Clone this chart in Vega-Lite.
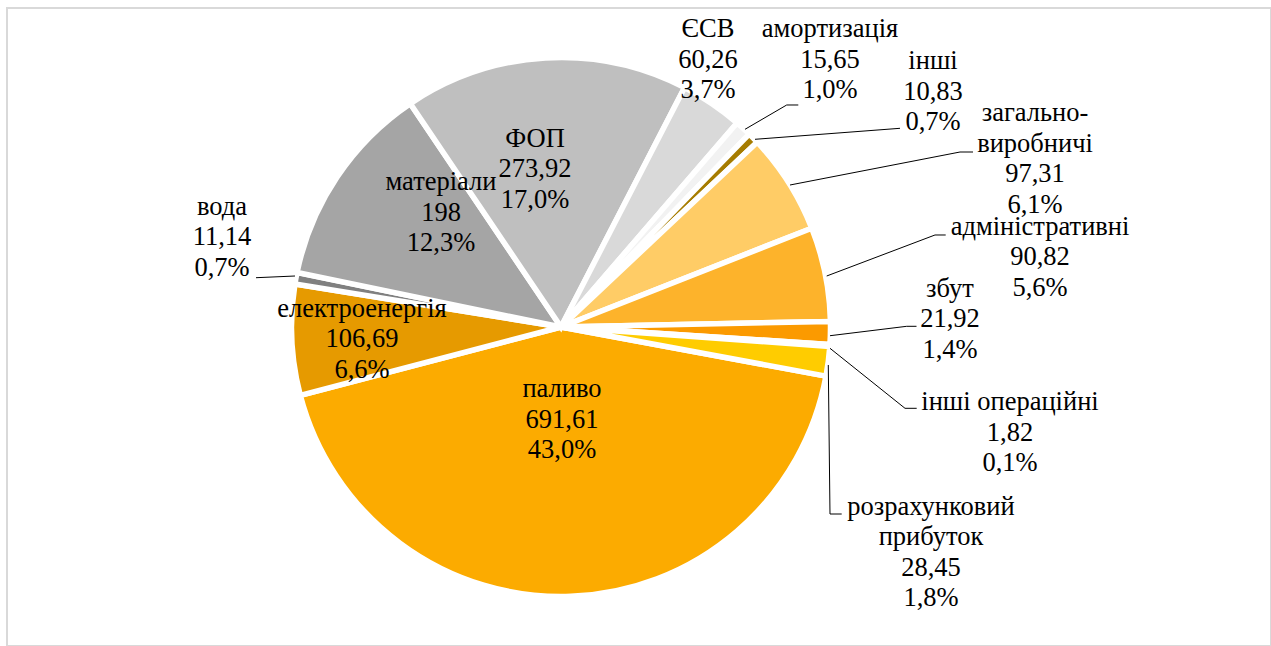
{
  "$schema": "https://vega.github.io/schema/vega-lite/v6.json",
  "width": 1271,
  "height": 646,
  "autosize": {"type": "fit", "contains": "padding"},
  "padding": {"left": 7, "top": 8, "right": 0, "bottom": 0},
  "background": "white",
  "config": {"view": {"stroke": "#D9D9D9", "strokeWidth": 2}, "font": "Liberation Serif"},
  "datasets": {
    "costs": [
      {"i": 1, "name": "паливо", "value": 691.61},
      {"i": 2, "name": "електроенергія", "value": 106.69},
      {"i": 3, "name": "вода", "value": 11.14},
      {"i": 4, "name": "матеріали", "value": 198},
      {"i": 5, "name": "ФОП", "value": 273.92},
      {"i": 6, "name": "ЄСВ", "value": 60.26},
      {"i": 7, "name": "амортизація", "value": 15.65},
      {"i": 8, "name": "інші", "value": 10.83},
      {"i": 9, "name": "загально-виробничі", "value": 97.31},
      {"i": 10, "name": "адміністративні", "value": 90.82},
      {"i": 11, "name": "збут", "value": 21.92},
      {"i": 12, "name": "інші операційні", "value": 1.82},
      {"i": 13, "name": "розрахунковий прибуток", "value": 28.45}
    ],
    "labels": [
      {"name": "паливо", "label": "паливо\n691,61\n43,0%", "x": 0.0037, "y": -0.2633},
      {"name": "електроенергія", "label": "електроенергія\n106,69\n6,6%", "x": -0.7453, "y": 0.0386},
      {"name": "вода", "label": "вода\n11,14\n0,7%", "x": -1.2697, "y": 0.4195},
      {"name": "матеріали", "label": "матеріали\n198\n12,3%", "x": -0.4494, "y": 0.5131},
      {"name": "ФОП", "label": "ФОП\n273,92\n17,0%", "x": -0.0974, "y": 0.6753},
      {"name": "ЄСВ", "label": "ЄСВ\n60,26\n3,7%", "x": 0.5506, "y": 1.0843},
      {"name": "амортизація", "label": "амортизація\n15,65\n1,0%", "x": 1.0075, "y": 1.0843},
      {"name": "інші", "label": "інші\n10,83\n0,7%", "x": 1.3933, "y": 0.9652},
      {"name": "загально-виробничі", "label": "загально-\nвиробничі\n97,31\n6,1%", "x": 1.7753, "y": 0.7708},
      {"name": "адміністративні", "label": "адміністративні\n90,82\n5,6%", "x": 1.794, "y": 0.3446},
      {"name": "збут", "label": "збут\n21,92\n1,4%", "x": 1.4569, "y": 0.1135},
      {"name": "інші операційні", "label": "інші операційні\n1,82\n0,1%", "x": 1.6816, "y": -0.3109},
      {"name": "розрахунковий прибуток", "label": "розрахунковий\nприбуток\n28,45\n1,8%", "x": 1.3858, "y": -0.7041}
    ],
    "leaders": [
      {"name": "амортизація", "k": 1, "x": 0.6891, "y": 0.7404},
      {"name": "амортизація", "k": 2, "x": 0.8453, "y": 0.8315},
      {"name": "амортизація", "k": 3, "x": 0.8888, "y": 0.8315},
      {"name": "інші", "k": 1, "x": 0.7266, "y": 0.703},
      {"name": "інші", "k": 2, "x": 1.2697, "y": 0.7442},
      {"name": "загально-виробничі", "k": 1, "x": 0.8577, "y": 0.5318},
      {"name": "загально-виробничі", "k": 2, "x": 1.4944, "y": 0.6554},
      {"name": "загально-виробничі", "k": 3, "x": 1.5431, "y": 0.6554},
      {"name": "адміністративні", "k": 1, "x": 0.9951, "y": 0.191},
      {"name": "адміністративні", "k": 2, "x": 1.4007, "y": 0.3446},
      {"name": "адміністративні", "k": 3, "x": 1.4408, "y": 0.3446},
      {"name": "збут", "k": 1, "x": 1.0075, "y": -0.0326},
      {"name": "збут", "k": 2, "x": 1.2948, "y": 0.0026},
      {"name": "збут", "k": 3, "x": 1.3315, "y": 0.0026},
      {"name": "інші операційні", "k": 1, "x": 1.0075, "y": -0.0798},
      {"name": "інші операційні", "k": 2, "x": 1.2884, "y": -0.3045},
      {"name": "інші операційні", "k": 3, "x": 1.3322, "y": -0.3045},
      {"name": "розрахунковий прибуток", "k": 1, "x": 1.0011, "y": -0.1423},
      {"name": "розрахунковий прибуток", "k": 2, "x": 1.0075, "y": -0.7004},
      {"name": "розрахунковий прибуток", "k": 3, "x": 1.0513, "y": -0.7004},
      {"name": "вода", "k": 1, "x": -0.9963, "y": 0.191},
      {"name": "вода", "k": 2, "x": -1.1423, "y": 0.1846}
    ]
  },
  "layer": [
    {
      "data": {"name": "costs"},
      "mark": {"type": "arc", "outerRadius": 269.5, "stroke": "white", "strokeWidth": 5.5},
      "encoding": {
        "x": {"datum": 0, "type": "quantitative", "scale": {"domain": [-2.07491, 2.65918], "nice": false, "zero": false}, "axis": null},
        "y": {"datum": 0, "type": "quantitative", "scale": {"domain": [-1.19476, 1.19476], "nice": false, "zero": false}, "axis": null},
        "theta": {"field": "value", "type": "quantitative", "stack": true, "scale": {"range": [1.7541, 8.0373]}},
        "order": {"field": "i", "type": "quantitative"},
        "color": {
          "field": "name",
          "type": "nominal",
          "legend": null,
          "scale": {
            "domain": ["паливо", "електроенергія", "вода", "матеріали", "ФОП", "ЄСВ", "амортизація", "інші", "загально-виробничі", "адміністративні", "збут", "інші операційні", "розрахунковий прибуток"],
            "range": ["#FCAB00", "#E69A00", "#808080", "#A5A5A5", "#BFBFBF", "#D9D9D9", "#F2F2F2", "#A67C00", "#FFCC66", "#FDB32B", "#FB9A00", "#E8A000", "#FFCC00"]
          }
        }
      }
    },
    {
      "data": {"name": "leaders"},
      "mark": {"type": "line", "color": "#000000", "strokeWidth": 1},
      "encoding": {
        "x": {"field": "x", "type": "quantitative", "scale": {"domain": [-2.07491, 2.65918], "nice": false, "zero": false}, "axis": null},
        "y": {"field": "y", "type": "quantitative", "scale": {"domain": [-1.19476, 1.19476], "nice": false, "zero": false}, "axis": null},
        "detail": {"field": "name", "type": "nominal"},
        "order": {"field": "k", "type": "quantitative"}
      }
    },
    {
      "data": {"name": "labels"},
      "mark": {"type": "text", "lineBreak": "\n", "fontSize": 26.5, "lineHeight": 30.5, "font": "Liberation Serif", "color": "#000000", "baseline": "alphabetic", "align": "center"},
      "encoding": {
        "x": {"field": "x", "type": "quantitative", "scale": {"domain": [-2.07491, 2.65918], "nice": false, "zero": false}, "axis": null},
        "y": {"field": "y", "type": "quantitative", "scale": {"domain": [-1.19476, 1.19476], "nice": false, "zero": false}, "axis": null},
        "text": {"field": "label", "type": "nominal"}
      }
    }
  ]
}
